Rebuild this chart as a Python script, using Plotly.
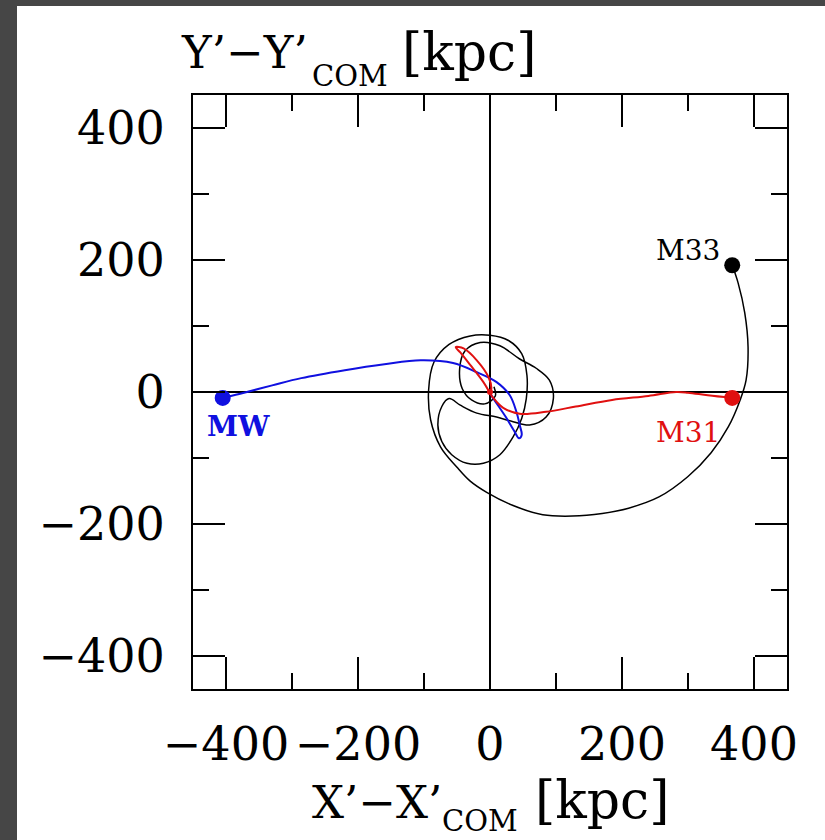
import plotly.graph_objects as go

# Orbits projected on the X'-Y' plane, relative to the centre of mass [kpc]
mw_x = [-405, -380, -330, -286, -220, -160, -105, -56, -20, 10, 30, 40, 45, 48, 44, 36, 24, 12, 2, 0]
mw_y = [-9, -3, 10, 21, 33, 42, 48, 44, 30, 15, -5, -30, -50, -65, -70, -58, -38, -20, -5, 0]

m31_x = [367, 330, 300, 282, 240, 185, 130, 85, 45, 20, 5, -10, -30, -45, -52, -40, -20, -2, 2, 0]
m31_y = [-9, -5, -1, 0, -6, -12, -22, -30, -33, -24, -9, 15, 41, 60, 68, 66, 48, 22, 5, 0]

m33_x = [367, 376, 386, 391, 388, 379, 361, 335, 300, 256, 210, 170, 125, 80, 35, -5, -30, -50,
         -75, -90, -93, -85, -62, -30, 0, 28, 48, 56, 55, 48, 35, 15, -10, -35, -58, -73, -79,
         -73, -62, -45, -20, 10, 35, 60, 85, 96, 90, 70, 45, 15, -15, -38, -46, -42, -28, -8, 8, 6]
m33_y = [192, 165, 120, 68, 18, -12, -53, -92, -128, -159, -176, -184, -188, -186, -172, -152, -135, -114,
         -83, -42, 3, 45, 72, 85, 86, 78, 58, 25, -10, -40, -68, -95, -108, -108, -95, -75, -50,
         -22, -10, -20, -32, -38, -45, -50, -38, -10, 18, 36, 50, 70, 75, 62, 35, 5, -12, -18, -6, 8]

# Present-day positions of the three galaxies
names = ["MW", "M31", "M33"]
start_x = [-405, 367, 367]
start_y = [-9, -9, 192]
colors = ["#1010e0", "#e01010", "#000000"]

label_x = [-381, 300, 352]
label_y = [-53, -61, 214]

major_ticks = [-400, -200, 0, 200, 400]
major_text = ["\u2212400", "\u2212200", "0", "200", "400"]
minor_ticks = [-300, -100, 100, 300]

# plot area in pixels inside the 825x840 page
W, H = 825, 840
L, R, T, B = 193, 38, 95, 151
pw, ph = W - L - R, H - T - B


def px_x(p):
    return (p - L) / pw


def px_y(p):
    return (H - B - p) / ph


fig = go.Figure()

fig.add_trace(go.Scatter(x=m33_x, y=m33_y, mode="lines",
                         line=dict(color="black", width=1.5, shape="spline", smoothing=1.0),
                         hoverinfo="skip"))
fig.add_trace(go.Scatter(x=mw_x, y=mw_y, mode="lines",
                         line=dict(color=colors[0], width=2, shape="spline", smoothing=1.0),
                         hoverinfo="skip"))
fig.add_trace(go.Scatter(x=m31_x, y=m31_y, mode="lines",
                         line=dict(color=colors[1], width=2, shape="spline", smoothing=1.0),
                         hoverinfo="skip"))
fig.add_trace(go.Scatter(x=start_x, y=start_y, mode="markers",
                         marker=dict(color=colors, size=16, line=dict(width=0)),
                         hoverinfo="skip"))
fig.add_trace(go.Scatter(x=[m31_x[-1]], y=[m31_y[-1]], mode="markers",
                         marker=dict(color=colors[1], size=6), hoverinfo="skip"))

serif = "DejaVu Serif"

axis_common = dict(
    range=[-450, 450],
    showgrid=False,
    zeroline=True, zerolinecolor="black", zerolinewidth=2,
    showline=True, linecolor="black", linewidth=2, mirror="allticks",
    ticks="inside", ticklen=32, tickwidth=1.5, tickcolor="black",
    tickvals=major_ticks, ticktext=major_text,
    minor=dict(ticks="inside", ticklen=16, tickwidth=1.5, tickcolor="black",
               tickvals=minor_ticks, showgrid=False),
    tickfont=dict(family=serif, size=46, color="black"),
    fixedrange=True,
)

fig.update_xaxes(**axis_common, ticklabelstandoff=14)
fig.update_yaxes(**axis_common, ticklabelstandoff=17)

annotations = []
for n, lx, ly, c in zip(names, label_x, label_y, colors):
    xa = "right" if n == "M33" else "center"
    txt = "<b>%s</b>" % n if n == "MW" else n
    annotations.append(dict(x=lx, y=ly, xref="x", yref="y", text=txt, showarrow=False,
                            xanchor=xa, yanchor="middle",
                            font=dict(family=serif, size=28, color=c)))


def axis_title(parts):
    # parts: (text, left pixel, centre pixel, font size)
    for txt, left, mid, size in parts:
        annotations.append(dict(x=px_x(left), y=px_y(mid), xref="paper", yref="paper",
                                text=txt, showarrow=False, xanchor="left", yanchor="middle",
                                font=dict(family=serif, size=size, color="black")))


axis_title([("Y\u2019\u2212Y\u2019", 179, 53, 45),
            ("COM", 310, 76, 29),
            ("[kpc]", 400, 52, 52)])
axis_title([("X\u2019\u2212X\u2019", 310, 802, 45),
            ("COM", 440, 821, 29),
            ("[kpc]", 533, 800, 52)])

# white sheet on the dark page
shapes = [dict(type="rect", xref="paper", yref="paper", layer="below",
               x0=px_x(17), x1=px_x(W + 5), y0=px_y(H + 5), y1=px_y(6),
               fillcolor="white", line=dict(width=0))]

fig.update_layout(
    width=W, height=H,
    margin=dict(l=L, r=R, t=T, b=B, pad=0),
    paper_bgcolor="#464646",
    plot_bgcolor="white",
    showlegend=False,
    annotations=annotations,
    shapes=shapes,
)

fig.write_html("out.html", config=dict(displayModeBar=False))
